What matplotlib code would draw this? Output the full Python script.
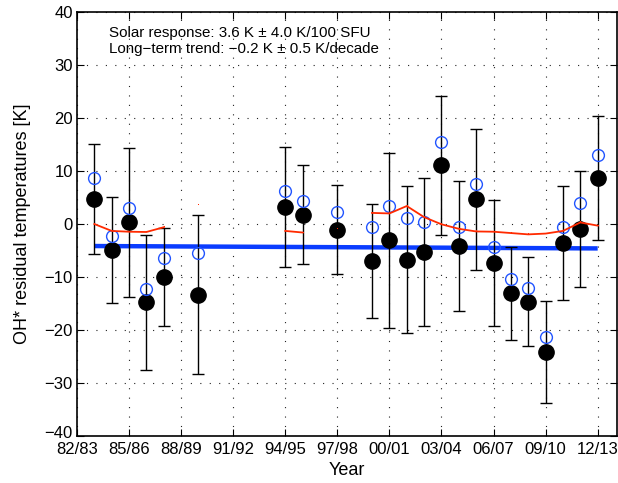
import numpy as np
import matplotlib.pyplot as plt
from matplotlib.transforms import ScaledTranslation

plt.rcParams['font.family'] = ['Liberation Sans', 'DejaVu Sans']

# winter seasons, given by the starting year (1983 -> 83/84)
years = [1983, 1984, 1985, 1986, 1987, 1989, 1994, 1995, 1997,
         1999, 2000, 2001, 2002, 2003, 2004, 2005, 2006, 2007, 2008,
         2009, 2010, 2011, 2012]

# residual temperatures [K]
resid = [4.7, -4.9, 0.3, -14.8, -10.0, -13.3, 3.2, 1.8, -1.1,
         -7.0, -3.1, -6.7, -5.3, 11.1, -4.1, 4.7, -7.4, -13.1, -14.7,
         -24.2, -3.6, -0.9, 8.6]
resid_err = [10.4, 10.0, 14.0, 12.7, 9.3, 15.0, 11.3, 9.3, 8.4,
             10.8, 16.5, 13.9, 13.9, 13.1, 12.3, 13.3, 11.9, 8.8, 8.4,
             9.6, 10.8, 10.9, 11.7]

# residuals without solar correction
uncorr = [8.6, -2.3, 3.0, -12.2, -6.4, -5.5, 6.2, 4.4, 2.3,
          -0.6, 3.4, 1.2, 0.3, 15.5, -0.6, 7.5, -4.3, -10.4, -12.1,
          -21.3, -0.6, 4.0, 13.0]

# solar fit (gaps where no flux data)
solar_years = list(range(1983, 2013))
solar_fit = [0.0, -1.3, -1.45, -1.5, -0.6, np.nan, 3.6, np.nan, np.nan, np.nan,
             np.nan, -1.3, -1.6, np.nan, -0.9, np.nan, 2.1, 2.0, 3.4, 1.3,
             -0.05, -0.9, -1.4, -1.45, -1.7, -1.95, -1.8, -1.3, 0.3, -0.3]

trend_years = [1983, 2012]
trend_vals = [-4.15, -4.6]

tick_years = list(range(1982, 2013, 3))
tick_labels = ['82/83', '85/86', '88/89', '91/92', '94/95', '97/98',
               '00/01', '03/04', '06/07', '09/10', '12/13']

fig = plt.figure(figsize=(6.18, 4.83), dpi=100, facecolor='white')
ax = fig.add_axes([0.1246, 0.0973, 0.8734, 0.8777])

ax.plot(trend_years, trend_vals, color='#0a3cff', lw=3.2, zorder=2,
        solid_capstyle='butt')
ax.errorbar(years, resid, yerr=resid_err, fmt='none', ecolor='black',
            elinewidth=1.0, capsize=4.5, capthick=1.0, zorder=3)
ax.plot(years, resid, 'o', color='black', ms=11, zorder=4)
ax.plot(years, uncorr, 'o', mfc='none', mec='#2255ff', mew=1.0, ms=8.5, zorder=5)
ax.plot(solar_years, solar_fit, color='#ff2a00', lw=1.3, zorder=6)
# isolated fit values show up as small dots
ax.plot(solar_years, solar_fit, ',', color='#ff2a00', zorder=6)

ax.set_xlim(1982, 2013.1)
ax.set_ylim(-40, 40)
ax.set_xticks(tick_years)
ax.set_xticklabels(tick_labels)
ax.set_yticks(range(-40, 41, 10))
ax.grid(True, color='#222222', linestyle=(0, (1, 7.5)), lw=0.8)
ax.tick_params(direction='in', top=True, right=True, length=5, width=0.8,
               labelsize=12)
ax.tick_params(axis='x', pad=4)
ax.tick_params(axis='y', pad=3)
for s in ax.spines.values():
    s.set_linewidth(1.2)

# lift the lowest y label a little so it clears the first year label
low = ax.yaxis.get_major_ticks()[0].label1
low.set_transform(low.get_transform() + ScaledTranslation(0, 3 / 72, fig.dpi_scale_trans))

ax.set_xlabel('Year', fontsize=13, labelpad=4)
ax.set_ylabel('OH* residual temperatures [K]', fontsize=13, labelpad=10)

ax.text(0.06, 0.950, 'Solar response: 3.6 K \u00b1 4.0 K/100 SFU',
        transform=ax.transAxes, fontsize=10.9, va='center')
ax.text(0.06, 0.913, 'Long\u2212term trend: \u22120.2 K \u00b1 0.5 K/decade',
        transform=ax.transAxes, fontsize=10.9, va='center')

fig.savefig('out.png', dpi=100)
